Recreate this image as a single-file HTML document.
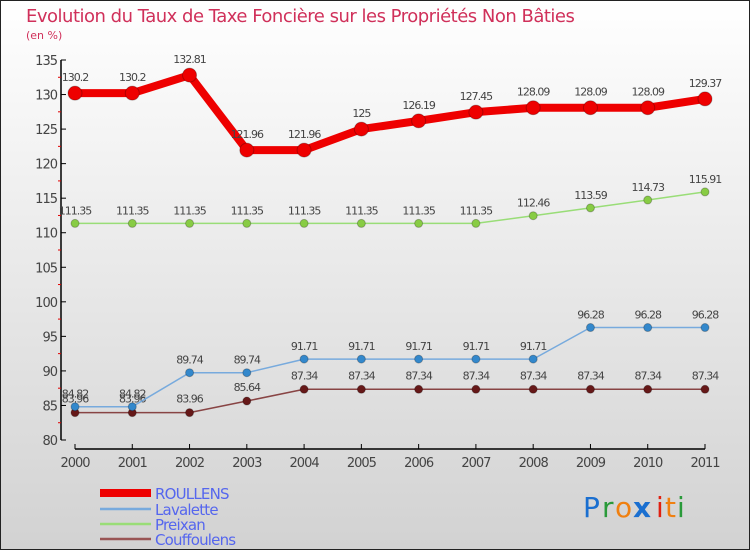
<!DOCTYPE html>
<html><head><meta charset="utf-8">
<style>
html,body{margin:0;padding:0;width:750px;height:550px;overflow:hidden}
svg{display:block;font-family:"DejaVu Sans","Liberation Sans",sans-serif}
</style></head>
<body>
<svg id="chart" width="750" height="550" viewBox="0 0 750 550">
<defs>
<linearGradient id="bg" x1="0" y1="0" x2="0" y2="1">
<stop offset="0" stop-color="#ffffff"/><stop offset="1" stop-color="#d2d2d2"/>
</linearGradient>
</defs>
<rect x="0.5" y="0.5" width="749" height="549" fill="url(#bg)" stroke="#222"/>
<text x="26" y="22" font-size="18" fill="#d0305a" style="letter-spacing:-0.5px">Evolution du Taux de Taxe Foncière sur les Propriétés Non Bâties</text>
<text x="26" y="39" font-size="11" fill="#d0305a">(en %)</text>
<g id="axes"></g>
<g id="series"></g>
<g id="legend"></g>
<g font-size="28" font-family="'DejaVu Sans',sans-serif">
<text x="583" y="517" fill="#1a6fd0">P</text><text x="602" y="517" fill="#2a9a3a">r</text><text x="615" y="517" fill="#f08010">o</text><text x="633" y="517" fill="#1a6fd0" font-weight="bold">x</text><text x="656" y="517" fill="#e02010">i</text><text x="665" y="517" fill="#f08010">t</text><text x="677" y="517" fill="#2a9a3a">i</text>
</g>
</svg>
<script>
const years=["2000","2001","2002","2003","2004","2005","2006","2007","2008","2009","2010","2011"];
const roullens=[130.2,130.2,132.81,121.96,121.96,125,126.19,127.45,128.09,128.09,128.09,129.37];
const lavalette=[84.82,84.82,89.74,89.74,91.71,91.71,91.71,91.71,91.71,96.28,96.28,96.28];
const preixan=[111.35,111.35,111.35,111.35,111.35,111.35,111.35,111.35,112.46,113.59,114.73,115.91];
const couffoulens=[83.96,83.96,83.96,85.64,87.34,87.34,87.34,87.34,87.34,87.34,87.34,87.34];
const yTicks=[80,85,90,95,100,105,110,115,120,125,130,135];
const seriesNames=["ROULLENS","Lavalette","Preixan","Couffoulens"];
const NS="http://www.w3.org/2000/svg";
function X(i){return 75+i*(705-75)/11;}
function Y(v){return 440-(v-80)*(440-60)/55;}
function mk(p,tag,at){const e=document.createElementNS(NS,tag);for(const k in at)e.setAttribute(k,at[k]);p.appendChild(e);return e;}
const axes=document.getElementById('axes');
let l=mk(axes,'line',{x1:61,y1:60,x2:61,y2:440,stroke:'#000','stroke-width':1.5});

l=mk(axes,'line',{x1:75,y1:449,x2:705,y2:449,stroke:'#000','stroke-width':1.5});

yTicks.forEach((t,i)=>{
 mk(axes,'line',{x1:61,y1:Y(t),x2:66,y2:Y(t),stroke:'#000'});
 if(i<yTicks.length-1)mk(axes,'line',{x1:58,y1:Y(t+2.5),x2:61,y2:Y(t+2.5),stroke:'#e00000'});
 const tx=mk(axes,'text',{x:57,y:Y(t)+5,'text-anchor':'end','font-size':13,fill:'#444'});
 
 tx.textContent=t;tx.style.letterSpacing='-1px';
});
years.forEach((yr,i)=>{
 mk(axes,'line',{x1:X(i),y1:449,x2:X(i),y2:444,stroke:'#000'});
 const tx=mk(axes,'text',{x:X(i),y:467,'text-anchor':'middle','font-size':13,fill:'#444'});
 
 tx.textContent=yr;tx.style.letterSpacing='-1px';
});
const sg=document.getElementById('series');
function draw(name,vals,color,dot,w,r,labelOff){
 const g=mk(sg,'g',{});
 
 const pts=vals.map((v,i)=>X(i)+','+Y(v)).join(' ');
 mk(g,'polyline',{points:pts,fill:'none',stroke:color,'stroke-width':w,'stroke-linejoin':'round'});
 vals.forEach((v,i)=>{
  const c=mk(g,'circle',{cx:X(i),cy:Y(v),r:r,fill:dot,stroke:'rgba(0,0,0,0.25)','stroke-width':1});
  
  const t=mk(g,'text',{x:X(i),y:Y(v)-labelOff,'text-anchor':'middle','font-size':11,fill:'#444'});
  
  t.textContent=v;t.style.letterSpacing='-1px';
 });
}
draw('preixan',preixan,'#99dd77','#88cc44',1.5,4,9);
draw('couffoulens',couffoulens,'#884444','#661818',1.5,4,10);
draw('lavalette',lavalette,'#77aadd','#3388cc',1.5,4,9);
draw('roullens',roullens,'#ee0000','#ee0000',8,7,12);
const lg=document.getElementById('legend');
const lc=['#ee0000','#77aadd','#99dd77','#995555'],lw=[8,2.5,2.5,2.5],ly=[492,508,523,538];
seriesNames.forEach((n,i)=>{
 const g=mk(lg,'g',{});
 
 mk(g,'line',{x1:100,y1:ly[i]+1,x2:151,y2:ly[i]+1,stroke:lc[i],'stroke-width':lw[i]});
 const t=mk(g,'text',{x:155,y:ly[i]+7,'font-size':15,fill:'#5566ee'});
 t.textContent=n;t.style.letterSpacing='-0.8px';
});
</script>
</body></html>
